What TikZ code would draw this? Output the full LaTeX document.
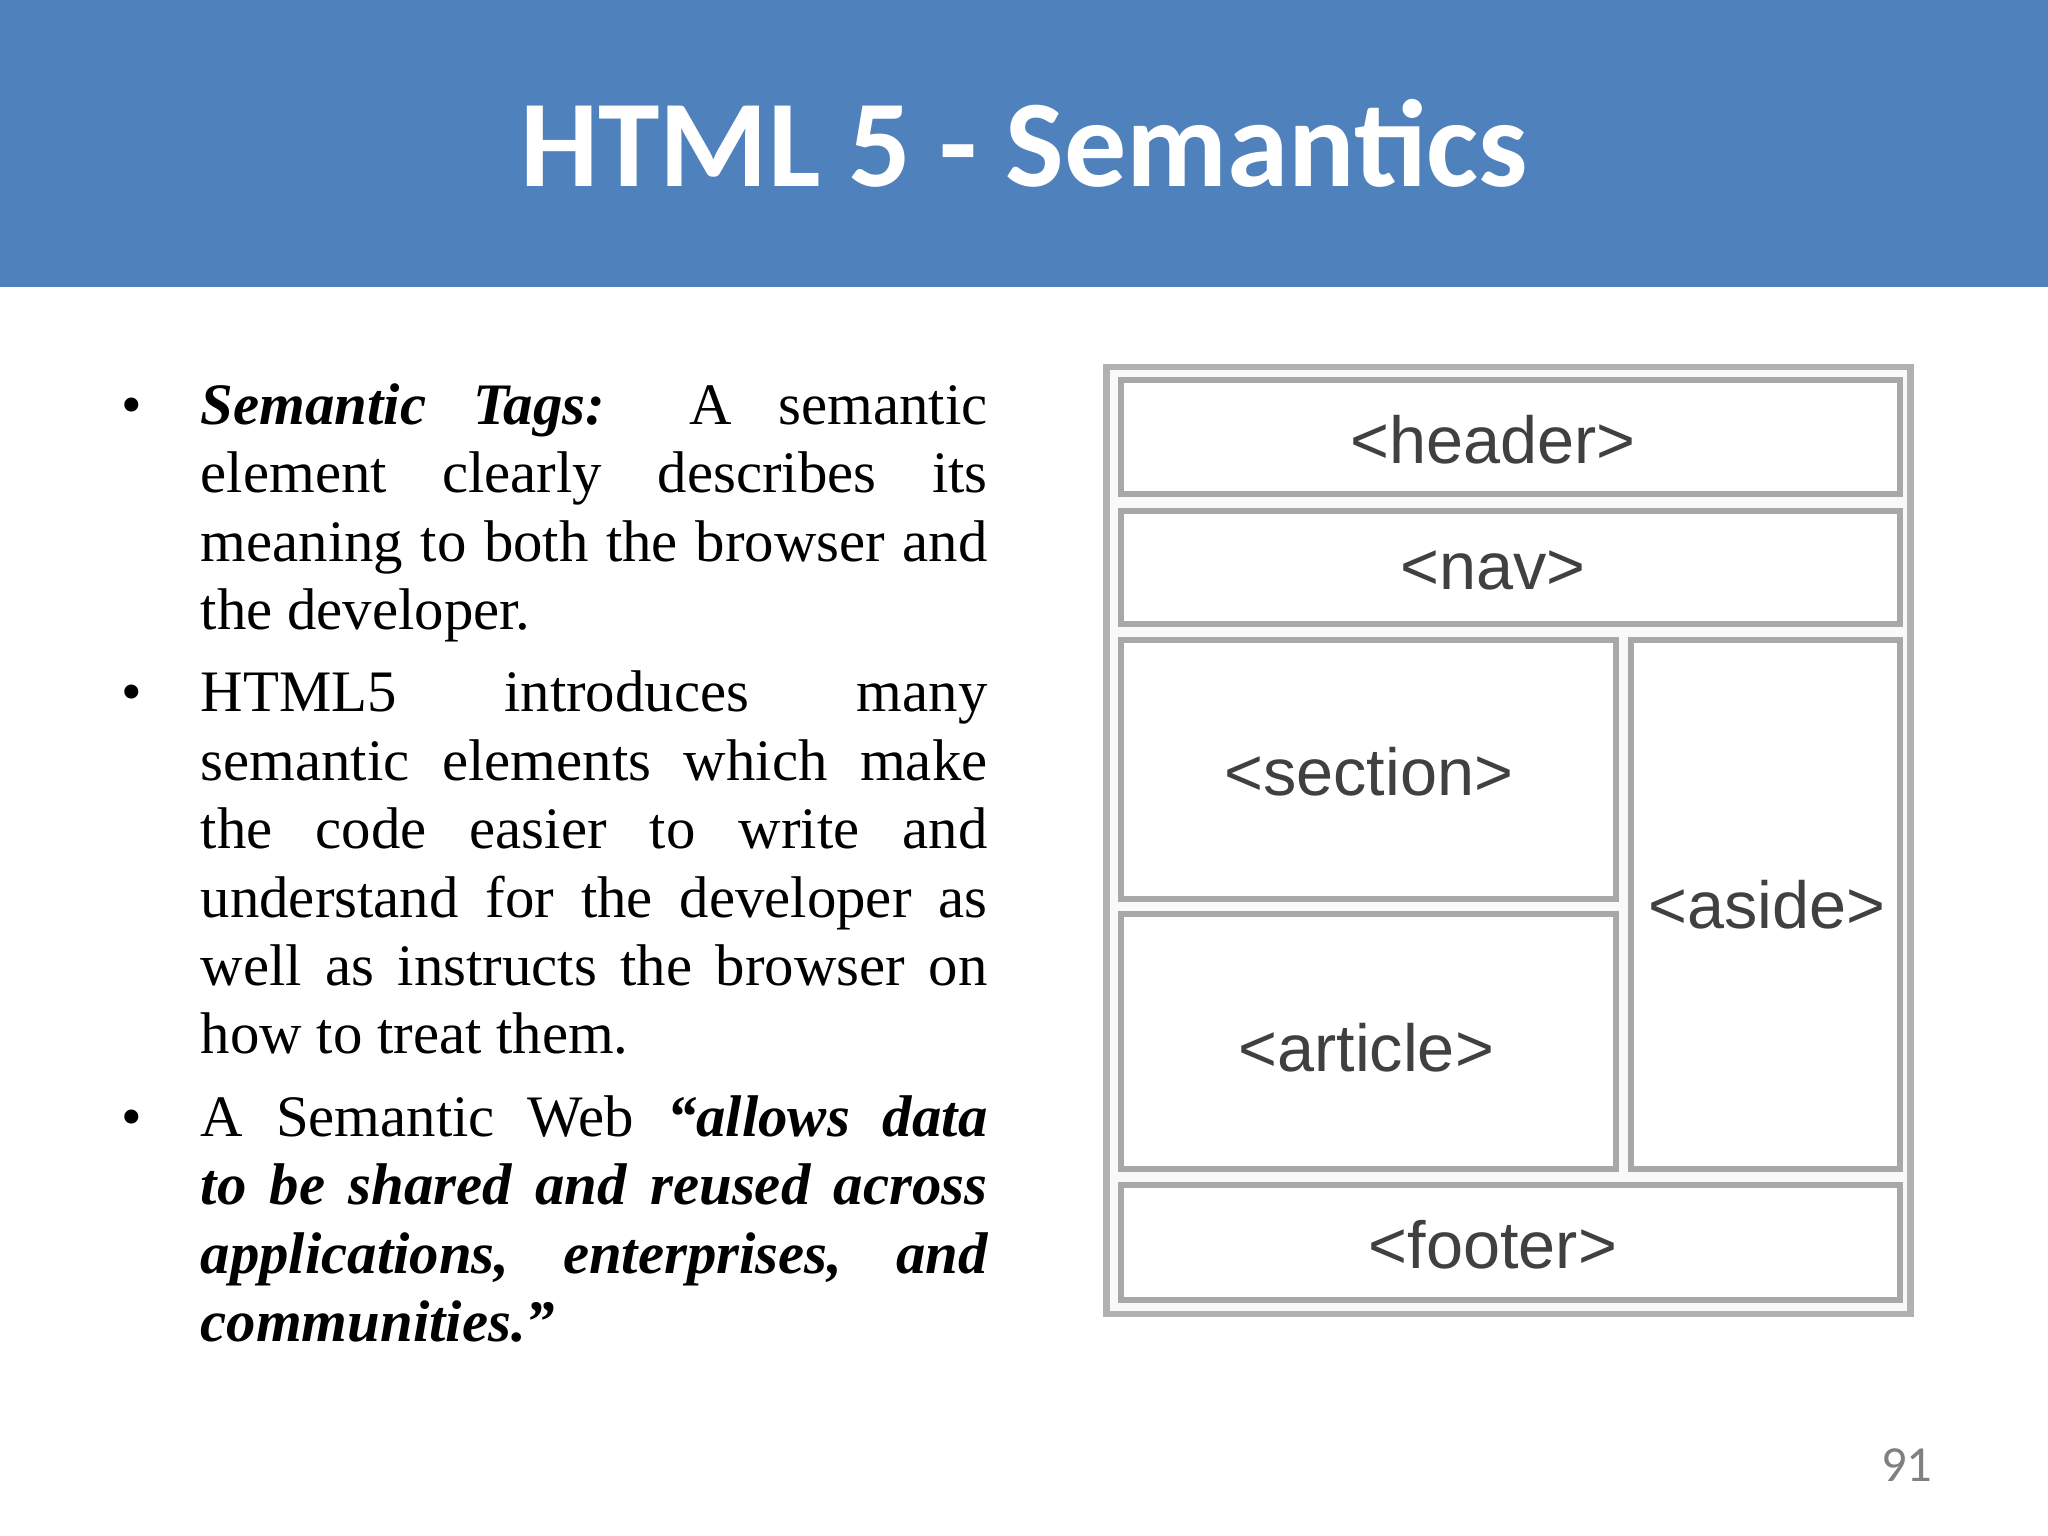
\documentclass[tikz,border=0pt]{standalone}
\usepackage{fontspec}
\setmainfont{Liberation Serif}
\newfontfamily\titlefont{Carlito}
\newfontfamily\boxfont{Liberation Sans}
\definecolor{banner}{HTML}{4F81BD}
\definecolor{boxline}{HTML}{A8A8A8}
\definecolor{boxtext}{HTML}{404040}
\hyphenpenalty=10000
\exhyphenpenalty=10000
\begin{document}
\begin{tikzpicture}[x=0.01cm,y=-0.01cm,
  para/.style={anchor=north west,inner sep=0pt,text width=6.02cm,align=justify,font=\fontsize{12.8pt}{14.9pt}\selectfont\sloppy},
  bul/.style={anchor=base,inner sep=0pt,font=\fontsize{12.8pt}{14.9pt}\selectfont},
  tagbox/.style={draw=boxline,line width=1.3pt,fill=white},
  tag/.style={font=\boxfont\fontsize{14.5pt}{16pt}\selectfont,text=boxtext,inner sep=0pt}]
\useasboundingbox (0,0) rectangle (1568,1176);
\fill[white] (0,0) rectangle (1568,1176);
\fill[banner] (0,0) rectangle (1568,220);
\node[text=white,font=\titlefont\bfseries\fontsize{27pt}{30pt}\selectfont] (title) at (784,110) {HTML 5 - Semantics};
% text
\node[bul] (b1) at (101,325) {•};
\node[bul] (b2) at (101,545) {•};
\node[bul] (b3) at (101,870) {•};
\node[para] (p1) at (153,293) {\textbf{\textit{Semantic Tags:}} A semantic element clearly describes its meaning to both the browser and the developer.};
\node[para] (p2) at (153,513) {HTML5 introduces many semantic elements which make the code easier to write and understand for the developer as well as instructs the browser on how to treat them.};
\node[para] (p3) at (153,838) {A Semantic Web \textbf{\textit{``allows data to be shared and reused across applications, enterprises, and communities.\symbol{34}}}};
% diagram
\draw[draw=boxline!90,line width=1.5pt,fill=gray!5] (847,281) rectangle (1463,1006);
\draw[tagbox] (858,291) rectangle (1455,378);
\draw[tagbox] (858,391) rectangle (1455,478);
\draw[tagbox] (858,490) rectangle (1237,688);
\draw[tagbox] (858,700) rectangle (1237,895);
\draw[tagbox] (1249,490) rectangle (1455,895);
\draw[tagbox] (858,907) rectangle (1455,995);
\node[tag] (header) at (1143,337) {<header>};
\node[tag] (nav) at (1143,437) {<nav>};
\node[tag] (section) at (1048,591) {<section>};
\node[tag] (article) at (1046,802) {<article>};
\node[tag] (aside) at (1353,693) {<aside>};
\node[tag] (footer) at (1143,953) {<footer>};
\node[text=gray,font=\titlefont\fontsize{11pt}{12pt}\selectfont] (page) at (1460,1122) {91};
\end{tikzpicture}
\end{document}
